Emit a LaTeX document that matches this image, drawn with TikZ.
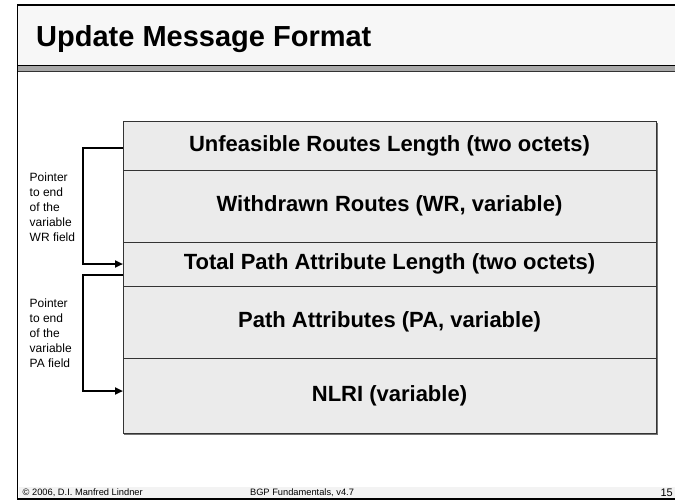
\documentclass[tikz,border=0pt]{standalone}
\usepackage{fontspec}
\setmainfont{Liberation Sans}
\usetikzlibrary{arrows.meta}
\definecolor{titlefill}{HTML}{F7F7F7}
\definecolor{fieldfill}{HTML}{EBEBEB}
\definecolor{fieldline}{HTML}{333333}
\definecolor{footfill}{HTML}{F3F3F3}
\definecolor{bandgray}{HTML}{A8A8A8}

\begin{document}
\begin{tikzpicture}[x=1pt,y=-1pt,
  field/.style={draw=fieldline, line width=0.9pt, fill=fieldfill,
    minimum width=533pt, inner sep=0pt, outer sep=0pt,
    font=\fontsize{22}{24}\selectfont\bfseries},
  note/.style={anchor=west, align=left, inner sep=0pt,
    font=\fontsize{12}{15}\selectfont},
  pointer/.style={line width=2pt, -{Triangle[length=8pt,width=7pt]}},
  foot/.style={inner sep=0pt, font=\fontsize{9.3}{11}\selectfont}]
\useasboundingbox (0,0) rectangle (675,501);
\clip (0,0) rectangle (675,501);

% slide frame: title bar, separator band, footer strip
\fill[titlefill] (17.5,5) rectangle (680,65);
\fill[bandgray] (17.5,65) rectangle (680,71.5);
\draw[line width=1.3pt] (17.5,65.3) -- (680,65.3);
\draw[black!80, line width=1.3pt] (17.5,71.5) -- (680,71.5);
\fill[footfill] (18.5,487) rectangle (680,498.3);
\draw[line width=1.2pt] (680,5) -- (17.5,5) -- (17.5,499) -- (680,499);

\node[anchor=base west, inner sep=0pt, font=\fontsize{29}{32}\selectfont\bfseries]
  (title) at (36,46.7) {Update Message Format};

% message fields
\node[field, minimum height=49pt] (r1) at (389.5,145.5) {Unfeasible Routes Length (two octets)};
\node[field, minimum height=72pt] (r2) at (389.5,206) {Withdrawn Routes (WR, variable)};
\node[field, minimum height=44pt] (r3) at (389.5,264) {Total Path Attribute Length (two octets)};
\node[field, minimum height=72pt] (r4) at (389.5,322) {Path Attributes (PA, variable)};
\node[field, minimum height=75pt] (r5) at (389.5,395.5) {NLRI (variable)};
\draw[black!55, line width=1.1pt]
  ([shift={(1.1pt,-1.5pt)}]r1.north east) -- ([shift={(1.1pt,-1.1pt)}]r5.south east)
  -- ([shift={(1.1pt,-1.1pt)}]r5.south west);

% length pointers
\draw[pointer] ([yshift=-2.5pt]r1.west) -- ++(-40,0) |- (r3.west);
\draw[pointer] ([yshift=-11pt]r3.west) -- ++(-40,0) |- ([yshift=4.5pt]r5.west);

\node[note] (wrnote) at (29.5,207) {Pointer\\to end\\of the\\variable\\WR field};
\node[note] (panote) at (29.5,333.7) {Pointer\\to end\\of the\\variable\\PA field};

% footer
\node[foot, anchor=base west] (copy) at (22.5,495.8) {© 2006, D.I. Manfred Lindner};
\node[foot, anchor=base] (course) at (302,495.8) {BGP Fundamentals, v4.7};
\node[inner sep=0pt, anchor=base east, font=\fontsize{11}{13}\selectfont] (page) at (673,496.5) {15};
\end{tikzpicture}
\end{document}
